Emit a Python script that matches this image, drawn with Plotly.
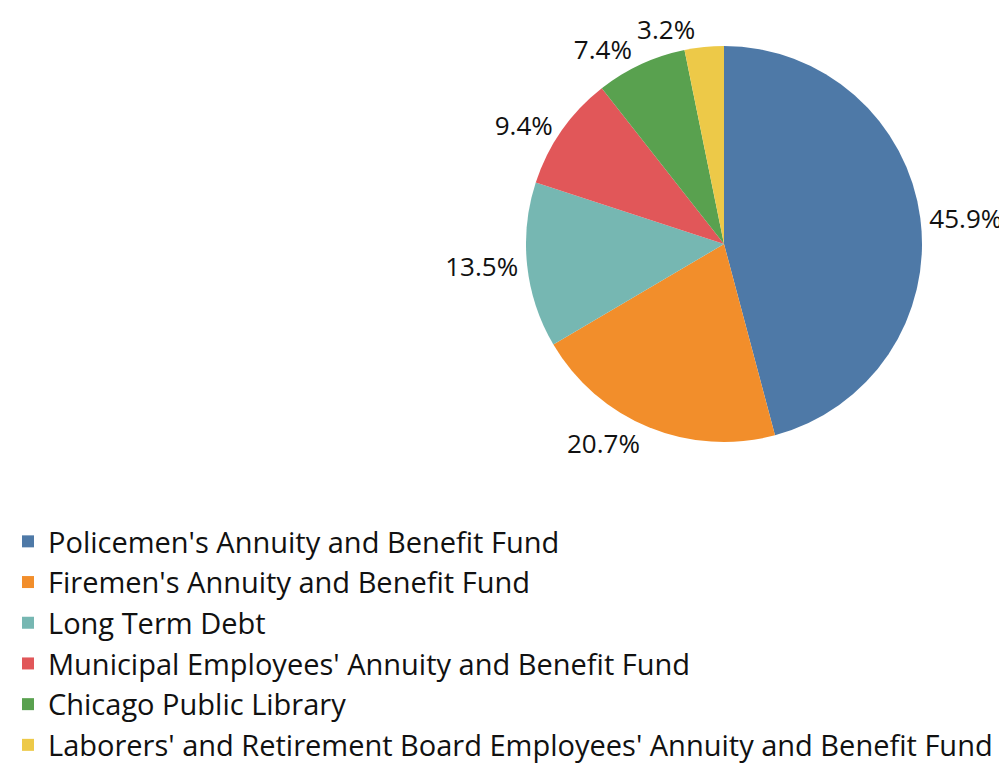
import plotly.graph_objects as go

labels = [
    "Policemen's Annuity and Benefit Fund",
    "Firemen's Annuity and Benefit Fund",
    "Long Term Debt",
    "Municipal Employees' Annuity and Benefit Fund",
    "Chicago Public Library",
    "Laborers' and Retirement Board Employees' Annuity and Benefit Fund",
]
values = [45.9, 20.7, 13.5, 9.4, 7.4, 3.2]
colors = ["#4E79A7", "#F28E2B", "#76B7B2", "#E15759", "#59A14F", "#EDC948"]

W, H = 1007, 763
cx, cy, r = 716, 236, 198
domain = dict(x=[(cx - r) / W, (cx + r) / W], y=[(H - cy - r) / H, (H - cy + r) / H])

n = len(values)
last = n - 1
# main pie: labels for all slices except the smallest (drawn by an overlay so it
# is not pushed away by its neighbour's label)
pos_main = ["outside" if i != last else "none" for i in range(n)]
pos_overlay = ["none" if i != last else "outside" for i in range(n)]

common = dict(
    labels=labels,
    values=values,
    sort=False,
    direction="clockwise",
    rotation=0,
    texttemplate="%{value:.1f}%",
    textfont=dict(size=26, color="#111111"),
    domain=domain,
    automargin=False,
)

fig = go.Figure()
fig.add_trace(go.Pie(
    marker=dict(colors=colors, line=dict(width=0)),
    textposition=pos_main,
    hoverinfo="label+value",
    **common,
))
fig.add_trace(go.Pie(
    marker=dict(colors=["rgba(0,0,0,0)"] * n, line=dict(width=0)),
    textposition=pos_overlay,
    hoverinfo="skip",
    showlegend=False,
    **common,
))

fig.update_layout(
    width=W, height=H,
    margin=dict(l=0, r=0, t=0, b=0),
    paper_bgcolor="white",
    font=dict(family="'Open Sans', sans-serif", size=26, color="#111111"),
    showlegend=True,
    legend=dict(
        x=0, y=0, xanchor="left", yanchor="bottom",
        orientation="v",
        font=dict(size=29, color="#111111"),
        bgcolor="rgba(0,0,0,0)",
    ),
)

fig.write_html("out.html")
